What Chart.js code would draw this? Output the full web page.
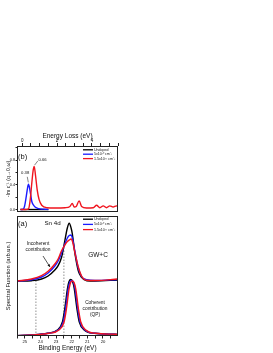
<!DOCTYPE html>
<html>
<head>
<meta charset="utf-8">
<script src="https://cdn.jsdelivr.net/npm/chart.js@4.4.1/dist/chart.umd.min.js"></script>
<style>
  body { margin: 0; background: #fff; }
  #wrap { position: relative; width: 273px; height: 353px; }
  canvas { position: absolute; left: 0; }
  #lossChart { top: 0; }
  #specChart { top: 215px; }
</style>
</head>
<body>
<div id="wrap">
  <canvas id="lossChart" width="273" height="215"></canvas>
  <canvas id="specChart" width="273" height="138"></canvas>
</div>
<script>
// series labels (same three dopings in both panels)
const seriesNames = ['Undoped', '5x10\u00B2\u2070 cm\u207B\u00B3', '1.5x10\u00B2\u00B9 cm\u207B\u00B3'];
const seriesColors = ['#000000', '#1a1aff', '#f0141e'];

// panel (b): loss function vs energy loss (eV)
const lossUndopedE = [-0.1, 0.3, 0.6, 1.0, 1.5];
const lossUndoped  = [0, 0, 0, 0, 0];
const lossBlueE = [-0.1, 0.05, 0.13, 0.23, 0.30, 0.36, 0.44, 0.55, 0.65, 0.74, 0.88, 1.03, 1.3, 1.5];
const lossBlue  = [0, 0.005, 0.05, 0.21, 0.34, 0.41, 0.32, 0.13, 0.07, 0.04, 0.02, 0.01, 0.005, 0];
const lossRedE = [-0.1, 0.2, 0.36, 0.46, 0.55, 0.63, 0.69, 0.76, 0.86, 0.97, 1.12, 1.41, 1.89, 2.46, 2.74,
                  2.87, 2.99, 3.1, 3.27, 3.41, 3.69, 4.08, 4.27, 4.46, 4.65, 4.84, 5.03, 5.22, 5.41, 5.48];
const lossRed  = [0, 0, 0.01, 0.16, 0.43, 0.64, 0.70, 0.56, 0.32, 0.16, 0.07, 0.03, 0.025, 0.03, 0.05,
                  0.10, 0.04, 0.05, 0.14, 0.05, 0.025, 0.03, 0.07, 0.03, 0.06, 0.03, 0.06, 0.04, 0.06, 0.05];
const lossTicks = [0, 2, 4];
const plasmonLabels = ['0.38', '0.66'];

// panel (a): spectral function vs binding energy (eV), GW+C full curves
const gwE = [25.5, 24.57, 23.93, 23.51, 23.08, 22.87, 22.65, 22.44, 22.28, 22.16, 22.04, 21.96, 21.79, 21.58, 21.37, 21.04, 20.51, 19.04];
const gwUndoped = [0.547, 0.553, 0.57, 0.60, 0.66, 0.703, 0.787, 0.953, 1.08, 1.127, 1.08, 1.02, 0.82, 0.653, 0.587, 0.553, 0.55, 0.56];
const gwBlue    = [0.55, 0.562, 0.59, 0.63, 0.70, 0.75, 0.83, 0.92, 0.98, 1.005, 1.01, 0.98, 0.84, 0.68, 0.595, 0.563, 0.555, 0.565];
const gwRed     = [0.55, 0.57, 0.603, 0.647, 0.72, 0.77, 0.853, 0.91, 0.945, 0.96, 0.97, 0.95, 0.83, 0.69, 0.60, 0.557, 0.555, 0.57];

// coherent (QP) part
const qpUndopedE = [25.5, 24.62, 23.56, 22.92, 22.59, 22.44, 22.27, 22.17, 22.06, 21.95, 21.84, 21.67, 21.52, 21.2, 20.56, 19.28, 19.04];
const qpUndoped  = [0.003, 0.01, 0.027, 0.06, 0.143, 0.277, 0.477, 0.545, 0.565, 0.545, 0.477, 0.277, 0.143, 0.06, 0.027, 0.017, 0.015];
const qpBlueE = [25.5, 24.57, 23.51, 22.87, 22.54, 22.39, 22.22, 22.12, 22.01, 21.90, 21.79, 21.62, 21.47, 21.15, 20.51, 19.23, 19.04];
const qpBlue  = [0.003, 0.01, 0.027, 0.06, 0.143, 0.277, 0.477, 0.54, 0.555, 0.54, 0.477, 0.277, 0.143, 0.06, 0.027, 0.017, 0.015];
const qpRedE = [25.5, 24.52, 23.46, 22.82, 22.49, 22.34, 22.17, 22.07, 21.96, 21.85, 21.74, 21.57, 21.42, 21.1, 20.46, 19.18, 19.04];
const qpRed  = [0.003, 0.01, 0.027, 0.06, 0.14, 0.27, 0.47, 0.535, 0.55, 0.535, 0.47, 0.27, 0.14, 0.06, 0.027, 0.017, 0.015];

// dotted guide lines (binding energy, top value)
const guideE = [24.29, 22.5];
const guideTop = [0.56, 0.88];

const FONT = "'Liberation Sans', Arial, sans-serif";
Chart.defaults.font.family = FONT;
Chart.defaults.color = '#111';

function pts(xs, ys) {
  return xs.map((x, i) => ({ x: x, y: ys[i] }));
}

function line(label, data, color, order) {
  return { label: label, data: data, borderColor: color, backgroundColor: color, order: order };
}

function drawLegend(ctx, x, y, gap, size) {
  ctx.font = size + 'px ' + FONT;
  ctx.textAlign = 'left';
  ctx.textBaseline = 'middle';
  seriesNames.forEach((name, i) => {
    const yy = y + i * gap;
    ctx.strokeStyle = seriesColors[i];
    ctx.lineWidth = 1.3;
    ctx.beginPath(); ctx.moveTo(x, yy); ctx.lineTo(x + 10, yy); ctx.stroke();
    ctx.fillStyle = '#111';
    ctx.fillText(name, x + 11, yy);
  });
}

function text(ctx, s, x, y, size, align) {
  ctx.font = size + 'px ' + FONT;
  ctx.textAlign = align || 'center';
  ctx.textBaseline = 'middle';
  ctx.fillStyle = '#111';
  ctx.fillText(s, x, y);
}

function framePlugin(extra) {
  return {
    id: 'frame',
    afterDraw(chart) {
      const ctx = chart.ctx, ca = chart.chartArea;
      ctx.save();
      ctx.strokeStyle = '#222';
      ctx.lineWidth = 1;
      ctx.strokeRect(ca.left + 0.5, ca.top + 0.5, ca.right - ca.left - 1, ca.bottom - ca.top - 1);
      extra(ctx, ca, chart);
      ctx.restore();
    }
  };
}

const commonOpts = {
  responsive: false,
  animation: false,
  devicePixelRatio: 1,
  elements: {
    point: { radius: 0 },
    line: { borderWidth: 1.4, cubicInterpolationMode: 'monotone' }
  },
  plugins: { legend: { display: false }, tooltip: { enabled: false } }
};

// ---- panel (b)
new Chart(document.getElementById('lossChart'), {
  type: 'line',
  data: {
    datasets: [
      line(seriesNames[2], pts(lossRedE, lossRed), seriesColors[2], 0),
      line(seriesNames[1], pts(lossBlueE, lossBlue), seriesColors[1], 1),
      line(seriesNames[0], pts(lossUndopedE, lossUndoped), seriesColors[0], 2)
    ]
  },
  options: {
    ...commonOpts,
    layout: { padding: { left: 0, top: 128, right: 155, bottom: 3 } },
    scales: {
      x: {
        type: 'linear',
        position: 'top',
        min: -0.3,
        max: 5.5,
        afterFit: s => { s.height = 18; },
        grid: { drawOnChartArea: false, tickLength: 3, color: '#222' },
        border: { display: false },
        ticks: {
          stepSize: 0.5, includeBounds: false, padding: 0, maxRotation: 0, autoSkip: false,
          font: { size: 4.5 },
          callback: v => lossTicks.includes(v) ? String(v) : ''
        },
        title: { display: true, text: 'Energy Loss (eV)', font: { size: 6.5 }, padding: { top: 4, bottom: 0 } }
      },
      y: {
        min: -0.04,
        max: 1.03,
        afterFit: s => { s.width = 17; },
        grid: { drawOnChartArea: false, tickLength: 1.5, color: '#222' },
        border: { display: false },
        ticks: {
          stepSize: 0.2, includeBounds: false, padding: 0.5,
          font: { size: 3.8 },
          callback: v => Math.round(v * 10) % 4 === 0 ? v.toFixed(1) : ''
        },
        title: { display: true, text: '-Im \u03B5\u207B\u00B9 (q\u21920,\u03C9)', font: { size: 5.2 }, padding: { top: 5.5, bottom: 0 } }
      }
    }
  },
  plugins: [framePlugin((ctx, ca, chart) => {
    const sx = chart.scales.x, sy = chart.scales.y;
    text(ctx, '(b)', ca.left + 1, ca.top + 10.5, 7.5, 'left');
    drawLegend(ctx, ca.left + 66, ca.top + 3.8, 4.4, 3.6);
    // plasmon peak labels
    ctx.strokeStyle = '#333';
    ctx.lineWidth = 0.6;
    ctx.beginPath();
    ctx.moveTo(sx.getPixelForValue(0.29), sy.getPixelForValue(0.53));
    ctx.lineTo(sx.getPixelForValue(0.35), sy.getPixelForValue(0.44));
    ctx.moveTo(sx.getPixelForValue(0.71), sy.getPixelForValue(0.72));
    ctx.lineTo(sx.getPixelForValue(0.90), sy.getPixelForValue(0.79));
    ctx.stroke();
    text(ctx, plasmonLabels[0], sx.getPixelForValue(0.17), sy.getPixelForValue(0.60), 4.2);
    text(ctx, plasmonLabels[1], sx.getPixelForValue(0.93), sy.getPixelForValue(0.80), 4.2, 'left');
  })]
});

// ---- panel (a)
const guideSets = guideE.map((e, i) => ({
  label: 'guide' + i,
  data: pts([e, e], [0, guideTop[i]]),
  borderColor: '#777',
  borderWidth: 0.8,
  borderDash: [1.5, 1.5],
  cubicInterpolationMode: 'default',
  order: 5
}));

new Chart(document.getElementById('specChart'), {
  type: 'line',
  data: {
    datasets: [
      line(seriesNames[2], pts(gwE, gwRed), seriesColors[2], 0),
      line(seriesNames[1], pts(gwE, gwBlue), seriesColors[1], 1),
      line(seriesNames[0], pts(gwE, gwUndoped), seriesColors[0], 2),
      line(seriesNames[2], pts(qpRedE, qpRed), seriesColors[2], 0),
      line(seriesNames[1], pts(qpBlueE, qpBlue), seriesColors[1], 1),
      line(seriesNames[0], pts(qpUndopedE, qpUndoped), seriesColors[0], 2),
      ...guideSets
    ]
  },
  options: {
    ...commonOpts,
    layout: { padding: { left: 0, top: 1, right: 155, bottom: 0 } },
    scales: {
      x: {
        type: 'linear',
        position: 'bottom',
        reverse: true,
        min: 19.04,
        max: 25.5,
        afterFit: s => { s.height = 17; },
        grid: { drawOnChartArea: false, tickLength: 2.5, color: '#222' },
        border: { display: false },
        ticks: {
          stepSize: 0.5, includeBounds: false, padding: 0.5, maxRotation: 0, autoSkip: false,
          font: { size: 4.2 },
          callback: v => Number.isInteger(v) ? String(v) : ''
        },
        title: { display: true, text: 'Binding Energy (eV)', font: { size: 6.5 }, padding: { top: 0, bottom: 1 } }
      },
      y: {
        min: 0,
        max: 1.2,
        afterFit: s => { s.width = 17; },
        grid: { display: false },
        border: { display: false },
        ticks: { display: false },
        title: { display: true, text: 'Spectral Function (arb.un.)', font: { size: 5.8 }, padding: { top: 4.6, bottom: 0 } }
      }
    }
  },
  plugins: [framePlugin((ctx, ca) => {
    text(ctx, '(a)', ca.left + 1, ca.top + 8, 7.5, 'left');
    text(ctx, 'Sn 4d', ca.left + 35.5, ca.top + 7.3, 6.2);
    drawLegend(ctx, ca.left + 66, ca.top + 3.2, 5.2, 3.6);
    text(ctx, 'GW+C', ca.left + 81, ca.top + 39.7, 6.5);
    text(ctx, 'Incoherent', ca.left + 21, ca.top + 27.3, 4.8);
    text(ctx, 'contribution', ca.left + 21, ca.top + 34, 4.8);
    text(ctx, 'Coherent', ca.left + 78, ca.top + 87, 4.8);
    text(ctx, 'contribution', ca.left + 78, ca.top + 93, 4.8);
    text(ctx, '(QP)', ca.left + 78, ca.top + 99, 4.8);
    // arrow to the incoherent tail
    const x0 = ca.left + 26, y0 = ca.top + 40, x1 = ca.left + 33, y1 = ca.top + 51;
    ctx.strokeStyle = '#111';
    ctx.fillStyle = '#111';
    ctx.lineWidth = 0.7;
    ctx.beginPath(); ctx.moveTo(x0, y0); ctx.lineTo(x1, y1); ctx.stroke();
    const a = Math.atan2(y1 - y0, x1 - x0);
    ctx.beginPath();
    ctx.moveTo(x1, y1);
    ctx.lineTo(x1 - 3 * Math.cos(a - 0.45), y1 - 3 * Math.sin(a - 0.45));
    ctx.lineTo(x1 - 3 * Math.cos(a + 0.45), y1 - 3 * Math.sin(a + 0.45));
    ctx.closePath();
    ctx.fill();
  })]
});
</script>
</body>
</html>
